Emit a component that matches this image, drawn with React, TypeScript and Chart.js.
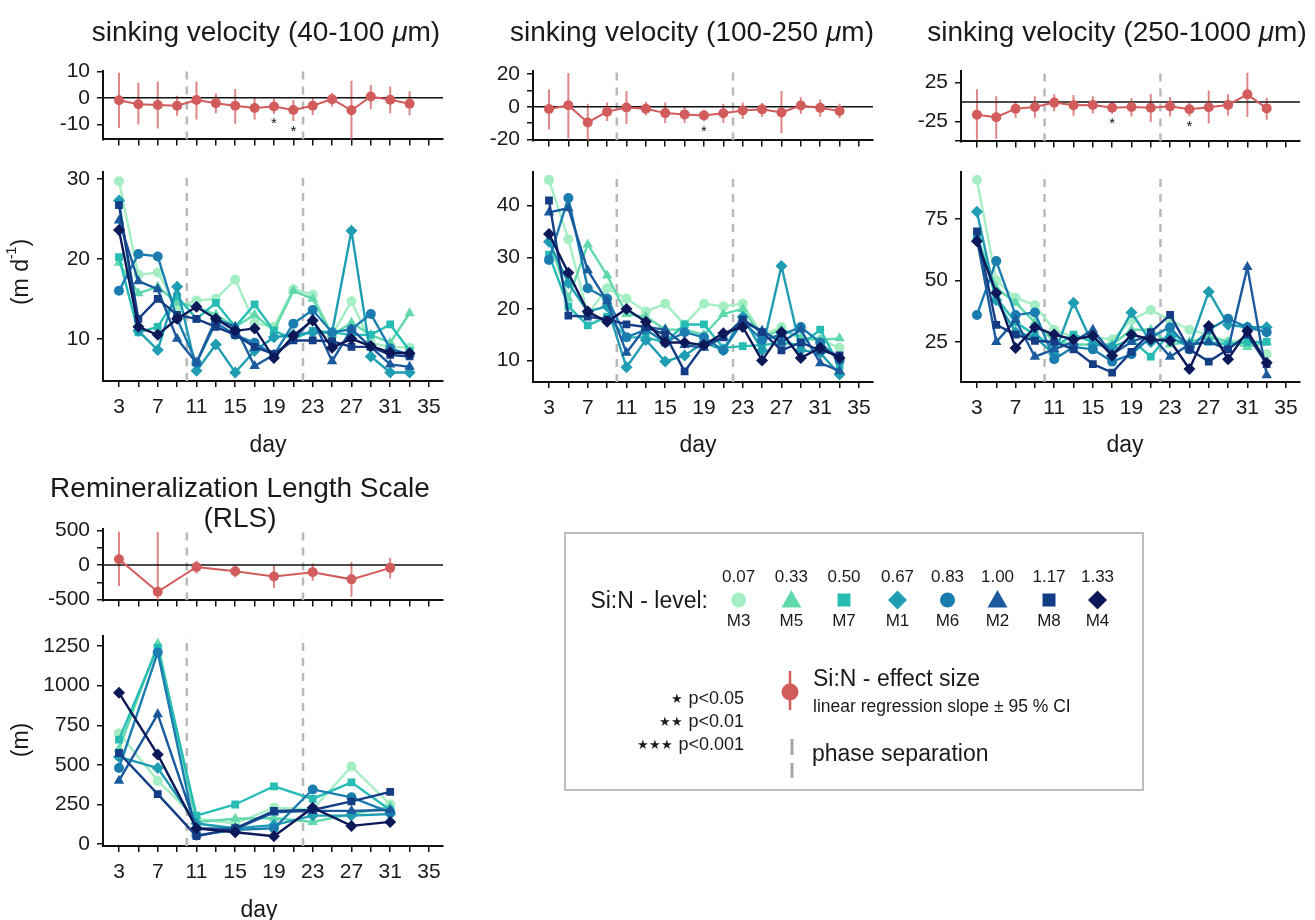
import React, { useEffect, useRef } from 'react';
import { Chart, registerables } from 'chart.js';

Chart.register(...registerables);

const FONT = "'Liberation Sans', Arial, Helvetica, sans-serif";
const TEXT = '#1a1a1a';
const RED = '#d25b5b';
const RED_ERR = 'rgba(208,88,88,0.72)';
const PHASE = '#b9b9b9';

// ---------- categories / ticks ----------
const days = [3, 5, 7, 9, 11, 13, 15, 17, 19, 21, 23, 25, 27, 29, 31, 33];
const rlsDays = [3, 7, 11, 15, 19, 23, 27, 31];
const phaseDays = [10, 22];
const xTickDays = [3, 5, 7, 9, 11, 13, 15, 17, 19, 21, 23, 25, 27, 29, 31, 33, 35];
const xLabelDays = [3, 7, 11, 15, 19, 23, 27, 31, 35];

const levels = ['M3', 'M5', 'M7', 'M1', 'M6', 'M2', 'M8', 'M4'];
const siN = ['0.07', '0.33', '0.50', '0.67', '0.83', '1.00', '1.17', '1.33'];
const colors = ['#a5eec3', '#62d8ad', '#27bcb4', '#1f9db3', '#1b7cb0', '#1a5a9d', '#143d85', '#0c1858'];
const shapes = ['circle', 'triangle', 'rect', 'rectRot', 'circle', 'triangle', 'rect', 'rectRot'];
const radii = [5, 6, 5.5, 6, 5, 6, 5.5, 6];

// ---------- effect sizes (slope, 95% CI) ----------
const sv40Est = [-0.9, -2.4, -2.7, -3.0, -0.8, -2.0, -3.0, -3.8, -3.3, -4.6, -3.0, -0.5, -4.7, 0.5, -0.7, -2.2];
const sv40Lo = [-11.4, -10.1, -11.6, -6.8, -8.2, -5.8, -9.8, -8.2, -6.0, -8.7, -6.5, -3.3, -16.0, -4.3, -5.8, -6.6];
const sv40Hi = [9.5, 5.7, 6.2, 0.8, 6.2, 1.6, 3.3, 0.3, -0.2, -0.8, 0.3, 1.8, 6.5, 4.9, 4.3, 2.5];
const sv40Sig = ['', '', '', '', '', '', '', '', '*', '*', '', '', '', '', '', ''];

const sv100Est = [-1.4, 0.9, -9.6, -3.0, -0.5, -1.2, -3.9, -4.7, -5.3, -4.0, -2.3, -1.6, -3.5, 0.7, -0.7, -2.6];
const sv100Lo = [-14, -19.3, -21, -8.8, -10.5, -5.3, -10, -10, -8.8, -10, -7.5, -6.1, -16.3, -4.4, -6.1, -7];
const sv100Hi = [10.5, 20.7, 1.8, 2.6, 9.6, 3, 2.6, 0, -1.8, 1.8, 2.6, 2.3, 9.6, 5.8, 4.4, 1.8];
const sv100Sig = ['', '', '', '', '', '', '', '', '*', '', '', '', '', '', '', ''];

const sv250Est = [-16.2, -19.5, -8.5, -6.3, -0.7, -4, -3.7, -7.4, -6.3, -7.4, -5.5, -9.2, -6.6, -3.7, 9.9, -8.1];
const sv250Lo = [-48.5, -47, -20.2, -20.2, -11.8, -17.6, -14.7, -14.7, -18.4, -25.7, -18.4, -18.4, -27.6, -17.3, -19.1, -22.8];
const sv250Hi = [16.5, 7.4, 1.1, 7.4, 10, 9.2, 7.4, 0, 4.8, 10.3, 6.6, 0, 14.7, 10, 37.5, 5.5];
const sv250Sig = ['', '', '', '', '', '', '', '*', '', '', '', '*', '', '', '', ''];

const rlsEst = [83, -387, -29, -92, -167, -104, -208, -42];
const rlsLo = [-304, -560, -125, -180, -333, -229, -458, -196];
const rlsHi = [479, 479, 62, 0, 0, 21, 42, 104];
const rlsSig = ['', '', '', '', '', '', '', ''];

// ---------- series (rows in level order M3, M5, M7, M1, M6, M2, M8, M4) ----------
const sv40Series = [
  [29.7, 18.0, 18.3, 14.0, 14.8, 15.0, 17.4, 12.0, 11.5, 16.2, 15.5, 10.5, 14.7, 9.5, 9.0, 8.9],
  [19.5, 15.7, 16.5, 14.5, 14.0, 13.0, 11.5, 13.0, 11.0, 16.0, 15.0, 10.5, 12.0, 10.5, 9.5, 13.2],
  [20.2, 10.8, 11.5, 15.3, 12.5, 14.5, 11.5, 14.3, 11.0, 10.0, 11.0, 10.8, 10.5, 10.5, 11.8, 8.5],
  [27.3, 11.0, 8.6, 16.5, 6.0, 9.3, 5.8, 8.5, 10.2, 10.5, 10.8, 10.8, 23.5, 7.8, 5.8, 5.8],
  [16.0, 20.6, 20.3, 12.5, 7.0, 12.0, 10.5, 9.5, 8.0, 11.9, 13.6, 10.8, 11.2, 13.1, 8.8, 8.0],
  [24.8, 17.2, 16.2, 10.0, 7.0, 12.5, 11.5, 6.6, 8.0, 10.0, 12.5, 7.2, 11.2, 9.0, 6.8, 6.5],
  [26.7, 12.5, 15.0, 13.0, 12.5, 11.5, 10.5, 9.0, 8.1, 9.8, 9.8, 9.7, 9.0, 9.0, 8.0, 7.8],
  [23.6, 11.5, 10.5, 12.5, 14.0, 12.5, 11.0, 11.3, 7.6, 10.4, 12.3, 8.9, 10.0, 9.1, 8.3, 8.2],
];
const sv100Series = [
  [45.0, 33.5, 19.0, 24.0, 22.0, 19.5, 21.0, 17.0, 21.0, 20.5, 21.0, 15.0, 16.5, 14.0, 14.0, 12.5],
  [33.5, 22.0, 32.5, 26.5, 19.0, 18.5, 16.0, 16.0, 15.0, 19.0, 20.0, 14.5, 16.0, 14.5, 14.0, 14.3],
  [30.5, 20.5, 16.8, 18.5, 14.5, 14.5, 13.5, 17.0, 17.0, 12.5, 12.8, 13.0, 13.5, 13.0, 16.0, 9.0],
  [33.0, 25.0, 19.5, 20.5, 8.7, 14.0, 9.8, 11.0, 13.5, 12.0, 18.5, 12.0, 28.3, 12.0, 11.5, 7.3],
  [29.5, 41.5, 24.0, 22.0, 14.5, 16.0, 13.5, 15.5, 14.5, 12.0, 17.5, 14.0, 15.0, 16.5, 13.5, 10.0],
  [38.7, 39.5, 27.5, 21.5, 11.5, 16.5, 16.0, 13.0, 12.5, 14.5, 17.5, 15.8, 13.5, 16.0, 9.5, 8.0],
  [41.0, 18.7, 18.5, 18.0, 17.0, 16.5, 15.0, 7.9, 13.0, 14.5, 18.0, 15.5, 12.0, 13.5, 12.0, 11.0],
  [34.5, 27.0, 19.5, 17.5, 20.0, 17.5, 13.5, 13.5, 13.0, 15.3, 16.5, 10.0, 15.5, 10.5, 12.5, 10.5],
];
const sv250Series = [
  [91, 50, 43, 40, 30, 27, 27, 26, 34, 38, 34, 30, 28, 25, 26, 20],
  [68, 47, 41, 33, 25, 24, 24, 24, 30, 30, 24, 25, 27, 25, 23, 25],
  [68, 43, 33, 28, 23, 28, 25, 23, 26, 19, 29, 24, 25, 24, 25, 25],
  [78, 42, 29, 27, 20, 41, 24, 23, 37, 25, 27, 23, 45.5, 32, 31, 31],
  [36, 58, 36, 37, 18, 23, 22, 17, 20, 27, 31, 22, 30, 34.5, 31, 29],
  [67, 25, 34, 19, 22, 25, 30, 20, 25, 28, 19, 24, 25, 22, 55.5, 11.5],
  [70, 32, 28, 25.5, 25, 22, 16, 12.5, 21, 29, 36, 22, 17, 22, 28, 16],
  [66, 45, 22.5, 31, 28, 26, 27.5, 19.5, 28, 26, 25.5, 14, 31.5, 18, 29.5, 16.5],
];
const rlsSeries = [
  [700, 400, 160, 130, 230, 220, 490, 250],
  [600, 1265, 140, 160, 165, 140, 190, 235],
  [660, 1240, 180, 250, 365, 285, 390, 215],
  [550, 480, 130, 100, 120, 180, 180, 190],
  [480, 1210, 55, 90, 100, 345, 295, 200],
  [400, 820, 100, 95, 200, 210, 210, 215],
  [575, 315, 50, 100, 210, 215, 270, 330],
  [955, 565, 100, 75, 50, 230, 115, 140],
];

// ---------- layout ----------
const AX_W = 80;
const PAD_T = 14;
const PAD_R = 10;
const AX_H_TOP = 14;
const AX_H_BOTTOM = 46;
const X_MIN = 1.35;
const X_MAX = 36.45;

type Effect = { x: number[]; est: number[]; lo: number[]; hi: number[]; sig: string[] };
type Series = { x: number[]; values: number[][] };
type Spec = {
  key: string; L: number; T: number; R: number; B: number;
  yMin: number; yMax: number; yTicks: number[]; yLabels: number[];
  bottom: boolean; effect?: Effect; series?: Series;
};

const specs: Spec[] = [
  { key: 'p1t', L: 103, R: 443, T: 65, B: 145, yMin: -15.7, yMax: 10.3, yTicks: [-10, 0, 10], yLabels: [-10, 0, 10], bottom: false,
    effect: { x: days, est: sv40Est, lo: sv40Lo, hi: sv40Hi, sig: sv40Sig } },
  { key: 'p1b', L: 103, R: 443, T: 166, B: 381, yMin: 4.73, yMax: 30.9, yTicks: [10, 20, 30], yLabels: [10, 20, 30], bottom: true,
    series: { x: days, values: sv40Series } },
  { key: 'p2t', L: 533, R: 873, T: 65, B: 146, yMin: -20.6, yMax: 22.1, yTicks: [-20, -10, 0, 10, 20], yLabels: [-20, 0, 20], bottom: false,
    effect: { x: days, est: sv100Est, lo: sv100Lo, hi: sv100Hi, sig: sv100Sig } },
  { key: 'p2b', L: 533, R: 873, T: 166, B: 382, yMin: 5.85, yMax: 46.6, yTicks: [10, 20, 30, 40], yLabels: [10, 20, 30, 40], bottom: true,
    series: { x: days, values: sv100Series } },
  { key: 'p3t', L: 961, R: 1300, T: 65, B: 147, yMin: -50.5, yMax: 40.4, yTicks: [-50, -25, 25], yLabels: [-25, 25], bottom: false,
    effect: { x: days, est: sv250Est, lo: sv250Lo, hi: sv250Hi, sig: sv250Sig } },
  { key: 'p3b', L: 961, R: 1300, T: 166, B: 382, yMin: 8.7, yMax: 94.4, yTicks: [25, 50, 75], yLabels: [25, 50, 75], bottom: true,
    series: { x: days, values: sv250Series } },
  { key: 'p4t', L: 103, R: 443, T: 523, B: 606, yMin: -512, yMax: 525, yTicks: [-500, -250, 0, 250, 500], yLabels: [-500, 0, 500], bottom: false,
    effect: { x: rlsDays, est: rlsEst, lo: rlsLo, hi: rlsHi, sig: rlsSig } },
  { key: 'p4b', L: 103, R: 443, T: 630, B: 846, yMin: -12, yMax: 1316, yTicks: [0, 250, 500, 750, 1000, 1250], yLabels: [0, 250, 500, 750, 1000, 1250], bottom: true,
    series: { x: rlsDays, values: rlsSeries } },
];

function geometry(s: Spec) {
  const axH = s.bottom ? AX_H_BOTTOM : AX_H_TOP;
  return {
    left: s.L - AX_W,
    top: s.T - PAD_T,
    width: Math.round(s.R - s.L + AX_W + PAD_R),
    height: Math.round(s.B - s.T + PAD_T + axH),
    axH,
  };
}

function overlayPlugin(s: Spec) {
  return {
    id: 'overlay_' + s.key,
    beforeDatasetsDraw(chart: any) {
      const { ctx, chartArea: a } = chart;
      const x = chart.scales.x;
      const y = chart.scales.y;
      ctx.save();
      ctx.beginPath();
      ctx.rect(a.left, a.top, a.right - a.left, a.bottom - a.top);
      ctx.clip();
      ctx.strokeStyle = PHASE;
      ctx.lineWidth = 2.5;
      ctx.setLineDash([8, 7]);
      phaseDays.forEach((d) => {
        const px = x.getPixelForValue(d);
        ctx.beginPath();
        ctx.moveTo(px, a.bottom);
        ctx.lineTo(px, a.top);
        ctx.stroke();
      });
      ctx.setLineDash([]);
      if (s.effect) {
        const e = s.effect;
        ctx.strokeStyle = RED_ERR;
        ctx.lineWidth = 2;
        e.x.forEach((d, i) => {
          const px = x.getPixelForValue(d);
          ctx.beginPath();
          ctx.moveTo(px, y.getPixelForValue(e.lo[i]));
          ctx.lineTo(px, y.getPixelForValue(e.hi[i]));
          ctx.stroke();
        });
        const py0 = y.getPixelForValue(0);
        ctx.strokeStyle = '#111';
        ctx.lineWidth = 1.5;
        ctx.beginPath();
        ctx.moveTo(a.left, py0);
        ctx.lineTo(a.right, py0);
        ctx.stroke();
      }
      ctx.restore();
    },
    afterDatasetsDraw(chart: any) {
      if (!s.effect) return;
      const e = s.effect;
      const { ctx } = chart;
      const x = chart.scales.x;
      const y = chart.scales.y;
      ctx.save();
      ctx.fillStyle = '#111';
      ctx.font = `15px ${FONT}`;
      ctx.textAlign = 'center';
      ctx.textBaseline = 'top';
      e.x.forEach((d, i) => {
        if (!e.sig[i]) return;
        ctx.fillText(e.sig[i], x.getPixelForValue(d), y.getPixelForValue(e.lo[i]) + 3);
      });
      ctx.restore();
    },
  };
}

function makeConfig(s: Spec, axH: number): any {
  const datasets: any[] = [];
  if (s.effect) {
    const e = s.effect;
    datasets.push({
      data: e.x.map((d, i) => ({ x: d, y: e.est[i] })),
      borderColor: RED,
      backgroundColor: RED,
      pointBackgroundColor: RED,
      pointBorderWidth: 0,
      pointRadius: 5,
      borderWidth: 2,
      tension: 0,
    });
  }
  if (s.series) {
    const ser = s.series;
    ser.values.forEach((vals, k) => {
      datasets.push({
        label: levels[k],
        data: ser.x.map((d, i) => ({ x: d, y: vals[i] })),
        borderColor: colors[k],
        backgroundColor: colors[k],
        pointBackgroundColor: colors[k],
        pointBorderColor: colors[k],
        pointBorderWidth: 0,
        pointStyle: shapes[k],
        pointRadius: radii[k],
        borderWidth: 2.4,
        tension: 0,
        order: levels.length - k,
      });
    });
  }
  const tickFont = { family: FONT, size: 21 };
  return {
    type: 'line',
    data: { datasets },
    plugins: [overlayPlugin(s)],
    options: {
      animation: false,
      responsive: false,
      devicePixelRatio: 1,
      layout: { padding: { top: PAD_T, right: PAD_R, left: 0, bottom: 0 } },
      plugins: { legend: { display: false }, tooltip: { enabled: false }, title: { display: false } },
      scales: {
        x: {
          type: 'linear',
          min: X_MIN,
          max: X_MAX,
          afterBuildTicks: (sc: any) => { sc.ticks = xTickDays.map((v) => ({ value: v })); },
          afterFit: (sc: any) => { sc.height = axH; },
          ticks: {
            display: s.bottom,
            autoSkip: false,
            maxRotation: 0,
            padding: 8,
            color: TEXT,
            font: tickFont,
            callback: (v: number) => (xLabelDays.includes(v) ? String(v) : ''),
          },
          grid: { display: true, drawOnChartArea: false, drawTicks: true, tickLength: 6, color: '#111', lineWidth: 1.5 },
          border: { display: true, color: '#111', width: 2 },
        },
        y: {
          type: 'linear',
          min: s.yMin,
          max: s.yMax,
          afterBuildTicks: (sc: any) => { sc.ticks = s.yTicks.map((v) => ({ value: v })); },
          afterFit: (sc: any) => { sc.width = AX_W; },
          ticks: {
            autoSkip: false,
            padding: 7,
            color: TEXT,
            font: tickFont,
            callback: (v: number) => (s.yLabels.includes(v) ? String(v) : ''),
          },
          grid: { display: true, drawOnChartArea: false, drawTicks: true, tickLength: 6, color: '#111', lineWidth: 1.5 },
          border: { display: true, color: '#111', width: 2 },
        },
      },
    },
  };
}

function Plot({ spec }: { spec: Spec }) {
  const ref = useRef<HTMLCanvasElement | null>(null);
  const g = geometry(spec);
  useEffect(() => {
    if (!ref.current) return;
    const chart = new Chart(ref.current, makeConfig(spec, g.axH));
    return () => chart.destroy();
  }, []);
  return (
    <canvas
      ref={ref}
      width={g.width}
      height={g.height}
      style={{ position: 'absolute', left: g.left, top: g.top, width: g.width, height: g.height }}
    />
  );
}

function Shape({ shape, cx, cy, color }: { shape: string; cx: number; cy: number; color: string }) {
  if (shape === 'circle') return <circle cx={cx} cy={cy} r={7.5} fill={color} />;
  if (shape === 'triangle')
    return <polygon points={`${cx - 10},${cy + 7.5} ${cx + 10},${cy + 7.5} ${cx},${cy - 10}`} fill={color} />;
  if (shape === 'rect') return <rect x={cx - 6.5} y={cy - 6.5} width={13} height={13} fill={color} />;
  return <polygon points={`${cx},${cy - 9.5} ${cx + 9.5},${cy} ${cx},${cy + 9.5} ${cx - 9.5},${cy}`} fill={color} />;
}

const legendXs = [738.6, 791.4, 844, 897.5, 947.5, 997.5, 1049, 1097.5];

function Overlay() {
  const t = { fill: TEXT, fontFamily: FONT } as any;
  return (
    <svg width={1315} height={920} style={{ position: 'absolute', left: 0, top: 0 }}>
      <text x={266} y={31} fontSize={28} textAnchor="middle" dominantBaseline="central" {...t}>
        sinking velocity (40-100 <tspan fontStyle="italic">μ</tspan>m)
      </text>
      <text x={692} y={31} fontSize={28} textAnchor="middle" dominantBaseline="central" {...t}>
        sinking velocity (100-250 <tspan fontStyle="italic">μ</tspan>m)
      </text>
      <text x={1117} y={31} fontSize={28} textAnchor="middle" dominantBaseline="central" {...t}>
        sinking velocity (250-1000 <tspan fontStyle="italic">μ</tspan>m)
      </text>
      <text x={240} y={487} fontSize={28} textAnchor="middle" dominantBaseline="central" {...t}>
        Remineralization Length Scale
      </text>
      <text x={240} y={517} fontSize={28} textAnchor="middle" dominantBaseline="central" {...t}>
        (RLS)
      </text>
      <text x={268} y={444} fontSize={23} textAnchor="middle" dominantBaseline="central" {...t}>day</text>
      <text x={698} y={444} fontSize={23} textAnchor="middle" dominantBaseline="central" {...t}>day</text>
      <text x={1125} y={444} fontSize={23} textAnchor="middle" dominantBaseline="central" {...t}>day</text>
      <text x={259} y={909} fontSize={23} textAnchor="middle" dominantBaseline="central" {...t}>day</text>
      <text transform="translate(20,272) rotate(-90)" fontSize={23} textAnchor="middle" dominantBaseline="central" {...t}>
        (m d<tspan fontSize={14} dy={-9}>-1</tspan><tspan dy={9}>)</tspan>
      </text>
      <text transform="translate(20,740) rotate(-90)" fontSize={23} textAnchor="middle" dominantBaseline="central" {...t}>
        (m)
      </text>

      {/* legend */}
      <rect x={565} y={533} width={578} height={257} fill="none" stroke="#a8a8a8" strokeWidth={1.5} />
      <text x={708} y={600} fontSize={23} textAnchor="end" dominantBaseline="central" {...t}>Si:N - level:</text>
      {levels.map((m, k) => (
        <g key={m}>
          <text x={legendXs[k]} y={576.5} fontSize={17} textAnchor="middle" dominantBaseline="central" {...t}>{siN[k]}</text>
          <Shape shape={shapes[k]} cx={legendXs[k]} cy={600} color={colors[k]} />
          <text x={legendXs[k]} y={620} fontSize={17} textAnchor="middle" dominantBaseline="central" {...t}>{m}</text>
        </g>
      ))}
      <line x1={790} y1={671} x2={790} y2={710} stroke={RED} strokeWidth={2.5} />
      <circle cx={790} cy={692} r={8.5} fill={RED} />
      <text x={813} y={678} fontSize={23} dominantBaseline="central" {...t}>Si:N - effect size</text>
      <text x={813} y={705.5} fontSize={17.5} dominantBaseline="central" {...t}>linear regression slope ± 95 % CI</text>
      <text x={744} y={698} fontSize={18} textAnchor="end" dominantBaseline="central" {...t}>
        <tspan fontSize={13}>★</tspan> p&lt;0.05
      </text>
      <text x={744} y={721} fontSize={18} textAnchor="end" dominantBaseline="central" {...t}>
        <tspan fontSize={13}>★★</tspan> p&lt;0.01
      </text>
      <text x={744} y={744} fontSize={18} textAnchor="end" dominantBaseline="central" {...t}>
        <tspan fontSize={13}>★★★</tspan> p&lt;0.001
      </text>
      <line x1={792} y1={739} x2={792} y2={778} stroke="#a8a8a8" strokeWidth={3} strokeDasharray="16 8" />
      <text x={812} y={753} fontSize={23} dominantBaseline="central" {...t}>phase separation</text>
    </svg>
  );
}

export default function App() {
  return (
    <div style={{ position: 'fixed', left: 0, top: 0, width: 1315, height: 920, background: '#fff', overflow: 'hidden' }}>
      {specs.map((s) => (
        <Plot key={s.key} spec={s} />
      ))}
      <Overlay />
    </div>
  );
}
